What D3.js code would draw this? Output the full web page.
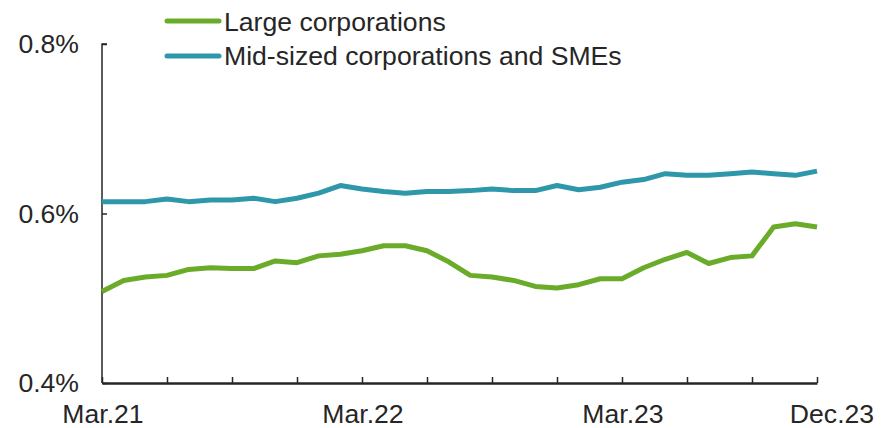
<!DOCTYPE html>
<html>
<head>
<meta charset="utf-8">
<script src="https://cdn.jsdelivr.net/npm/d3@7"></script>
<style>
  body { margin: 0; background: #fff; }
  text { font-family: "Liberation Sans", Arial, sans-serif; fill: #262626; }
</style>
</head>
<body>
<svg id="chart" width="895" height="428"></svg>
<script>
// monthly, Mar.21 .. Dec.23
const months = d3.range(34).map((i) => new Date(2021, 2 + i, 1));
const large = [
  0.508, 0.521, 0.525, 0.527, 0.534, 0.536, 0.535, 0.535, 0.544, 0.542,
  0.550, 0.552, 0.556, 0.562, 0.562, 0.556, 0.543, 0.527, 0.525, 0.521,
  0.514, 0.512, 0.516, 0.523, 0.523, 0.536, 0.546, 0.554, 0.541, 0.548,
  0.550, 0.584, 0.588, 0.584
];
const midSme = [
  0.614, 0.614, 0.614, 0.617, 0.614, 0.616, 0.616, 0.618, 0.614, 0.618,
  0.624, 0.633, 0.629, 0.626, 0.624, 0.626, 0.626, 0.627, 0.629, 0.627,
  0.627, 0.633, 0.628, 0.631, 0.637, 0.640, 0.647, 0.645, 0.645, 0.647,
  0.649, 0.647, 0.645, 0.650
];
const seriesNames = ["Large corporations", "Mid-sized corporations and SMEs"];
const colors = ["#6aac2a", "#2e97aa"];
const yTicks = [0.4, 0.6, 0.8];
const xLabelIdx = [0, 12, 24, 33];

const svg = d3.select("#chart");
const x = d3.scaleLinear().domain([0, months.length - 1]).range([102, 817]);
const y = d3.scaleLinear().domain([0.4, 0.8]).range([383, 44]);
const fmt = d3.timeFormat("%b.%y");
const fs = 26.6;

// y axis
const yAxis = svg.append("g")
  .attr("transform", "translate(102,0)")
  .call(d3.axisRight(y).tickValues(yTicks).tickSize(5).tickFormat(""));
yAxis.select(".domain").attr("d", `M5,${y(0.8)}H0V${y(0.4)}`);
yAxis.selectAll("line, path").attr("stroke", "#262626").attr("stroke-width", 1.5);

svg.append("g").selectAll("text")
  .data(yTicks)
  .join("text")
  .attr("x", 79)
  .attr("y", (d) => y(d) + 9)
  .attr("text-anchor", "end")
  .attr("font-size", fs)
  .text((d) => d3.format(".1f")(d) + "%");

// x axis
const qTicks = d3.range(0, months.length, 3);
const xAxis = svg.append("g")
  .attr("transform", `translate(0,${y(0.4)})`)
  .call(d3.axisTop(x).tickValues(qTicks).tickSize(6).tickSizeOuter(0).tickFormat(""));
xAxis.selectAll("line, path").attr("stroke", "#262626").attr("stroke-width", 1.5);
xAxis.select(".domain").attr("stroke-width", 2.5);

// last label is pushed right of its tick, as in the original
svg.append("g").selectAll("text")
  .data(xLabelIdx)
  .join("text")
  .attr("x", (d, i) => x(d) + (i === xLabelIdx.length - 1 ? 15 : 1))
  .attr("y", 423)
  .attr("text-anchor", "middle")
  .attr("font-size", fs)
  .text((d) => fmt(months[d]));

// lines
const line = d3.line().x((d, i) => x(i)).y((d) => y(d));
[large, midSme].forEach((s, k) => {
  svg.append("path")
    .datum(s)
    .attr("fill", "none")
    .attr("stroke", colors[k])
    .attr("stroke-width", 5)
    .attr("stroke-linejoin", "round")
    .attr("d", line);
});

// legend
const legend = svg.append("g");
seriesNames.forEach((name, k) => {
  const ly = k === 0 ? 21 : 56;
  legend.append("line")
    .attr("x1", 167).attr("x2", 219)
    .attr("y1", ly).attr("y2", ly)
    .attr("stroke", colors[k])
    .attr("stroke-width", 5)
    .attr("stroke-linecap", "round");
  legend.append("text")
    .attr("x", 224)
    .attr("y", ly + (k === 0 ? 10 : 8.5))
    .attr("font-size", fs)
    .text(name);
});
</script>
</body>
</html>
